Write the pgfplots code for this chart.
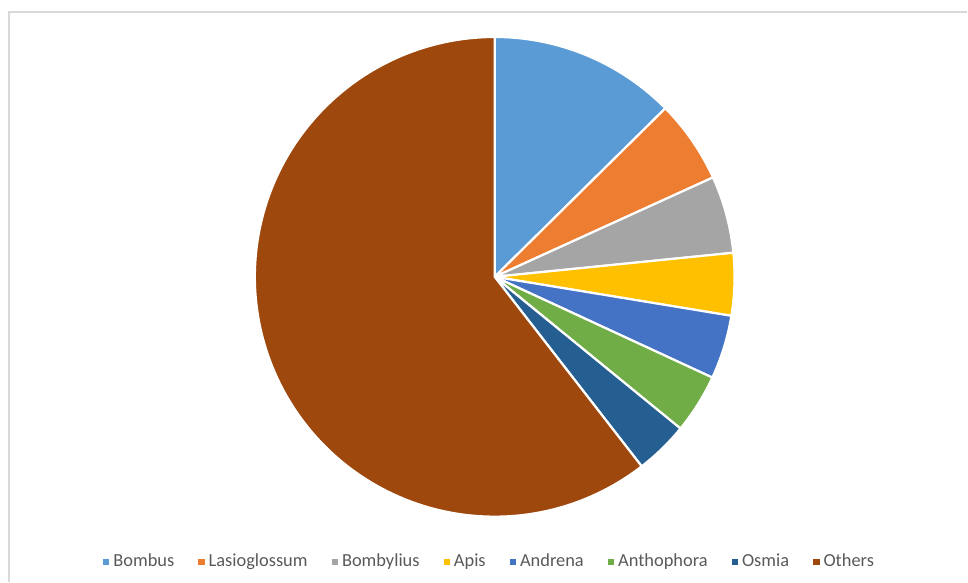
\documentclass[border=0pt]{standalone}
\usepackage{pgfplots}
\pgfplotsset{compat=1.18}
\usepackage{fontspec}
\setmainfont{Carlito}
\definecolor{cBombus}{HTML}{5B9BD5}
\definecolor{cLasio}{HTML}{ED7D31}
\definecolor{cBombyl}{HTML}{A5A5A5}
\definecolor{cApis}{HTML}{FFC000}
\definecolor{cAndrena}{HTML}{4472C4}
\definecolor{cAntho}{HTML}{70AD47}
\definecolor{cOsmia}{HTML}{255E91}
\definecolor{cOthers}{HTML}{9E480E}
\definecolor{txt}{HTML}{595959}
% Shares (percent): Bombus 12.6, Lasioglossum 5.6, Bombylius 5.2, Apis 4.2,
% Andrena 4.3, Anthophora 4.0, Osmia 3.6, Others 60.5
% Slice angles (degrees, clockwise from 90): cumulative boundaries
% 90, 44.64, 24.48, 5.76, -9.36, -24.84, -39.24, -52.2, -270
\begin{document}
\begin{tikzpicture}
\begin{axis}[
  scale only axis,
  width=484pt, height=291pt,
  xmin=-495, xmax=473, ymin=-305, ymax=277,
  hide axis,
  clip=false,
  data cs=polar,
  samples=80,
  every axis plot/.append style={draw=white, line width=1.1pt},
  legend columns=8,
  legend style={draw=none, fill=none, at={(0.507,0.034)}, anchor=center,
    font=\fontsize{9.2}{11}\selectfont\color{txt},
    /tikz/every even column/.append style={column sep=10pt}},
  legend cell align=left,
  legend image code/.code={\fill[#1,draw=none] (0pt,-1.6pt) rectangle (3.2pt,1.6pt);},
]
\path (axis cs:-495,-305) rectangle (axis cs:473,277);
\addplot[fill=cBombus, domain=44.64:90] {240} -- (axis cs:0,0) -- cycle;
\addlegendentry{Bombus}
\addplot[fill=cLasio, domain=24.48:44.64] {240} -- (axis cs:0,0) -- cycle;
\addlegendentry{Lasioglossum}
\addplot[fill=cBombyl, domain=5.76:24.48] {240} -- (axis cs:0,0) -- cycle;
\addlegendentry{Bombylius}
\addplot[fill=cApis, domain=-9.36:5.76] {240} -- (axis cs:0,0) -- cycle;
\addlegendentry{Apis}
\addplot[fill=cAndrena, domain=-24.84:-9.36] {240} -- (axis cs:0,0) -- cycle;
\addlegendentry{Andrena}
\addplot[fill=cAntho, domain=-39.24:-24.84] {240} -- (axis cs:0,0) -- cycle;
\addlegendentry{Anthophora}
\addplot[fill=cOsmia, domain=-52.2:-39.24] {240} -- (axis cs:0,0) -- cycle;
\addlegendentry{Osmia}
\addplot[fill=cOthers, domain=-270:-52.2, samples=200] {240} -- (axis cs:0,0) -- cycle;
\addlegendentry{Others}
\draw[black!15, line width=0.6pt] (axis cs:-486,-305) -- (axis cs:-486,265) -- (axis cs:473,265);
\end{axis}
\end{tikzpicture}
\end{document}
